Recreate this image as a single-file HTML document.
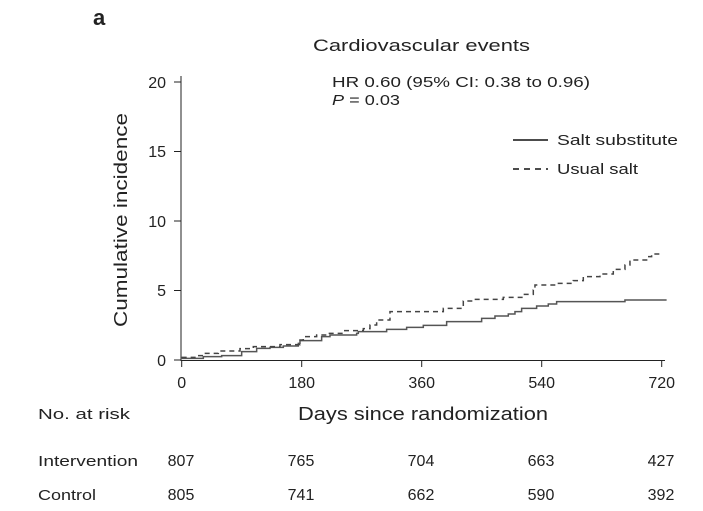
<!DOCTYPE html>
<html><head><meta charset="utf-8"><style>
html,body{margin:0;padding:0;background:#fff}
svg{display:block;font-family:"Liberation Sans",sans-serif;fill:#222}
</style></head><body>
<svg width="703" height="511" viewBox="0 0 703 511">
<text x="93" y="25" font-size="22" font-weight="bold">a</text>
<text x="313" y="51" font-size="17" textLength="217" lengthAdjust="spacingAndGlyphs">Cardiovascular events</text>
<g stroke="#222" stroke-width="1" fill="none">
<line x1="181" y1="76" x2="181" y2="361"/>
<line x1="181" y1="360.5" x2="665" y2="360.5"/>
<line x1="174" y1="82" x2="181" y2="82"/>
<line x1="174" y1="151.5" x2="181" y2="151.5"/>
<line x1="174" y1="221" x2="181" y2="221"/>
<line x1="174" y1="290.5" x2="181" y2="290.5"/>
<line x1="174" y1="360" x2="181" y2="360"/>
<line x1="181.7" y1="360" x2="181.7" y2="367"/>
<line x1="301.7" y1="360" x2="301.7" y2="367"/>
<line x1="421.7" y1="360" x2="421.7" y2="367"/>
<line x1="541.7" y1="360" x2="541.7" y2="367"/>
<line x1="661.7" y1="360" x2="661.7" y2="367"/>
</g>
<g font-size="16" text-anchor="end">
<text x="166" y="88">20</text><text x="166" y="157">15</text><text x="166" y="227">10</text><text x="166" y="296">5</text><text x="166" y="366">0</text>
</g>
<g font-size="16" text-anchor="middle">
<text x="181.7" y="388">0</text><text x="301.7" y="388">180</text><text x="421.7" y="388">360</text><text x="541.7" y="388">540</text><text x="661.7" y="388">720</text>
</g>
<text transform="translate(127,327) rotate(-90)" font-size="18" textLength="214" lengthAdjust="spacingAndGlyphs">Cumulative incidence</text>
<text x="332" y="87" font-size="15" textLength="258" lengthAdjust="spacingAndGlyphs">HR 0.60 (95% CI: 0.38 to 0.96)</text>
<text x="332" y="105" font-size="15" textLength="68" lengthAdjust="spacingAndGlyphs"><tspan font-style="italic">P</tspan> = 0.03</text>
<line x1="513" y1="140" x2="548" y2="140" stroke="#111" stroke-width="1.5"/>
<text x="557" y="145" font-size="15" textLength="121" lengthAdjust="spacingAndGlyphs">Salt substitute</text>
<line x1="513" y1="169" x2="548" y2="169" stroke="#111" stroke-width="1.5" stroke-dasharray="6,5"/>
<text x="557" y="174" font-size="15" textLength="81" lengthAdjust="spacingAndGlyphs">Usual salt</text>
<g transform="translate(170,240) scale(0.3333)" fill="none">
<path vector-effect="non-scaling-stroke" stroke="#555" stroke-width="1.5" d="M35,355 H100 V350 H155 V347 H215 V335 H260 V325 H300 V322 H340 V318 H385 V310 H390 V302 H455 V290 H480 V285 H560 V280 H565 V275 H650 V268 H710 V262 H760 V256 H830 V245 H935 V235 H975 V228 H1015 V222 H1035 V215 H1055 V205 H1100 V198 H1135 V192 H1160 V185 H1365 V180 H1490"/>
<path vector-effect="non-scaling-stroke" stroke="#444" stroke-width="1.5" stroke-dasharray="5,4" d="M35,352 H80 V347 H100 V340 H145 V333 H210 V326 H250 V320 H330 V314 H390 V300 H400 V290 H440 V285 H470 V280 H520 V272 H580 V266 H600 V255 H620 V240 H660 V215 H820 V205 H880 V183 H910 V178 H1000 V172 H1060 V163 H1090 V150 H1095 V135 H1160 V130 H1210 V122 H1240 V110 H1290 V102 H1330 V88 H1365 V75 H1380 V60 H1430 V50 H1445 V42 H1475"/>
</g>
<text x="298" y="420" font-size="18" textLength="250" lengthAdjust="spacingAndGlyphs">Days since randomization</text>
<text x="38" y="419" font-size="15" textLength="92" lengthAdjust="spacingAndGlyphs">No. at risk</text>
<g font-size="15">
<text x="38" y="466" textLength="100" lengthAdjust="spacingAndGlyphs">Intervention</text>
<text x="38" y="500" textLength="58" lengthAdjust="spacingAndGlyphs">Control</text>
</g>
<g font-size="16" text-anchor="middle">
<text x="181" y="466">807</text><text x="301" y="466">765</text><text x="421" y="466">704</text><text x="541" y="466">663</text><text x="661" y="466">427</text>
<text x="181" y="500">805</text><text x="301" y="500">741</text><text x="421" y="500">662</text><text x="541" y="500">590</text><text x="661" y="500">392</text>
</g>
</svg>
</body></html>
